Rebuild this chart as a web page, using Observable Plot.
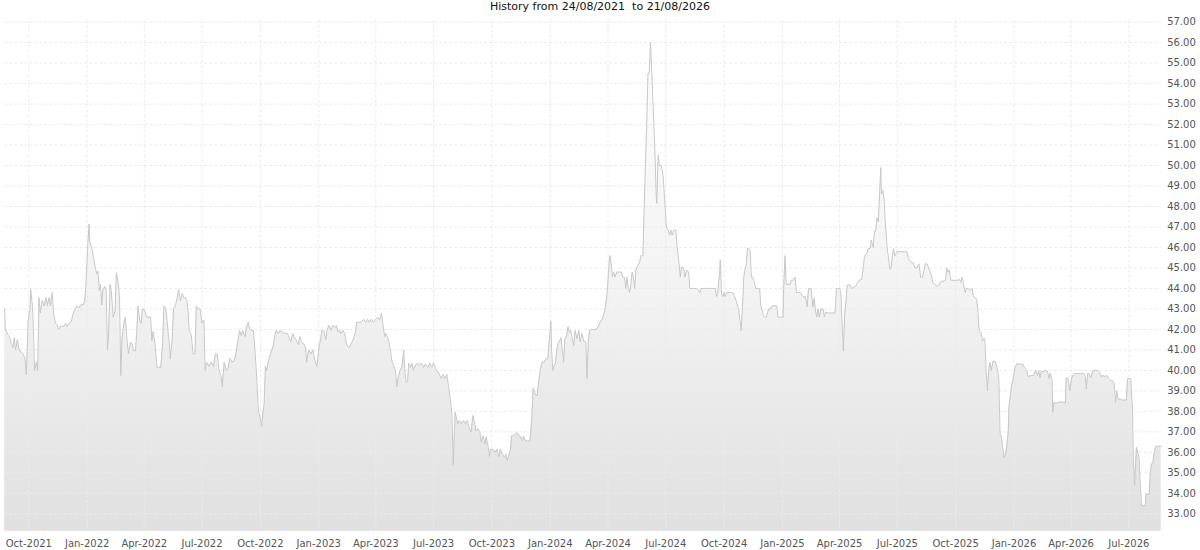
<!DOCTYPE html>
<html><head><meta charset="utf-8">
<script src="https://cdn.jsdelivr.net/npm/d3@7"></script>
<script src="https://cdn.jsdelivr.net/npm/@observablehq/plot@0.6"></script>
<style>
body{margin:0;background:#fff;font-family:"DejaVu Sans",sans-serif;}
#title{height:14px;line-height:14px;font-size:11px;text-align:center;white-space:pre;color:#111;}
</style></head><body>
<div id="title"></div>
<div id="chart"></div>
<script>
const titleText = "History from 24/08/2021  to 21/08/2026";

const series2021 = [["2021-08-24",43.0],["2021-08-25",42.0],["2021-08-29",41.75],["2021-09-01",41.6],["2021-09-03",41.35],["2021-09-06",41.1],["2021-09-08",41.6],["2021-09-10",41.0],["2021-09-13",41.5],["2021-09-15",41.1],["2021-09-19",40.85],["2021-09-22",40.8],["2021-09-25",40.55],["2021-09-27",39.8],["2021-09-30",42.4],["2021-10-03",43.05],["2021-10-04",43.95],["2021-10-07",43.05],["2021-10-09",41.3],["2021-10-10",40.0],["2021-10-13",40.4],["2021-10-15",40.0],["2021-10-17",43.55],["2021-10-19",42.8],["2021-10-22",43.4],["2021-10-25",43.15],["2021-10-28",43.55],["2021-10-30",43.15],["2021-11-02",43.55],["2021-11-04",43.15],["2021-11-07",43.8],["2021-11-09",42.8],["2021-11-12",42.3],["2021-11-14",42.25],["2021-11-17",42.0],["2021-11-20",42.15],["2021-11-25",42.15],["2021-11-28",42.3],["2021-11-30",42.15],["2021-12-03",42.3],["2021-12-07",42.4],["2021-12-10",42.75],["2021-12-13",43.0],["2021-12-16",43.15],["2021-12-19",43.05],["2021-12-22",43.2],["2021-12-26",43.2],["2021-12-28",43.4],["2021-12-30",44.2]];

const series2022 = [["2022-01-02",46.15],["2022-01-04",47.15],["2022-01-05",46.3],["2022-01-08",46.0],["2022-01-11",45.5],["2022-01-14",45.0],["2022-01-16",44.7],["2022-01-18",44.85],["2022-01-20",43.9],["2022-01-22",44.2],["2022-01-24",43.2],["2022-01-26",43.95],["2022-01-29",44.1],["2022-01-31",43.9],["2022-02-02",41.0],["2022-02-04",41.9],["2022-02-06",44.2],["2022-02-08",43.9],["2022-02-11",42.6],["2022-02-14",42.9],["2022-02-16",44.75],["2022-02-19",44.3],["2022-02-21",43.55],["2022-02-23",39.75],["2022-02-25",41.6],["2022-02-28",42.3],["2022-03-02",42.6],["2022-03-05",41.45],["2022-03-07",40.8],["2022-03-10",41.35],["2022-03-13",41.3],["2022-03-15",40.95],["2022-03-18",40.95],["2022-03-20",41.75],["2022-03-22",43.15],["2022-03-25",42.4],["2022-03-27",42.3],["2022-03-29",43.0],["2022-04-01",42.95],["2022-04-05",42.6],["2022-04-11",42.6],["2022-04-13",41.45],["2022-04-15",41.9],["2022-04-18",41.3],["2022-04-21",40.15],["2022-04-27",40.15],["2022-04-30",41.3],["2022-05-02",43.15],["2022-05-05",43.0],["2022-05-07",42.4],["2022-05-10",41.45],["2022-05-12",40.55],["2022-05-15",41.45],["2022-05-17",43.0],["2022-05-20",43.15],["2022-05-23",43.55],["2022-05-25",43.95],["2022-05-28",43.4],["2022-05-31",43.75],["2022-06-02",43.55],["2022-06-05",43.55],["2022-06-07",43.4],["2022-06-09",42.9],["2022-06-11",41.9],["2022-06-14",41.75],["2022-06-17",40.8],["2022-06-20",40.8],["2022-06-22",43.15],["2022-06-25",43.0],["2022-06-28",43.0],["2022-07-01",42.3],["2022-07-04",42.45],["2022-07-06",40.0],["2022-07-08",40.4],["2022-07-12",40.2],["2022-07-15",40.4],["2022-07-19",40.2],["2022-07-22",40.8],["2022-07-25",40.8],["2022-07-28",40.0],["2022-07-31",39.75],["2022-08-02",39.2],["2022-08-05",40.4],["2022-08-08",40.0],["2022-08-11",40.1],["2022-08-14",40.6],["2022-08-18",40.4],["2022-08-21",40.5],["2022-08-24",40.9],["2022-08-26",41.3],["2022-08-29",41.95],["2022-09-01",41.7],["2022-09-03",41.95],["2022-09-07",41.65],["2022-09-09",42.1],["2022-09-12",42.35],["2022-09-14",42.05],["2022-09-17",41.95],["2022-09-20",41.95],["2022-09-23",40.8],["2022-09-26",39.2],["2022-09-28",38.0],["2022-10-01",37.65],["2022-10-03",37.25],["2022-10-05",37.9],["2022-10-07",38.4],["2022-10-09",40.2],["2022-10-11",40.0],["2022-10-14",40.5],["2022-10-18",40.9],["2022-10-21",41.15],["2022-10-24",41.7],["2022-10-26",41.95],["2022-10-29",41.8],["2022-11-01",41.95],["2022-11-05",41.85],["2022-11-10",41.8],["2022-11-13",41.8],["2022-11-16",41.55],["2022-11-18",41.4],["2022-11-21",41.8],["2022-11-23",41.65],["2022-11-26",41.5],["2022-11-30",41.25],["2022-12-02",41.65],["2022-12-05",41.4],["2022-12-08",41.3],["2022-12-11",41.15],["2022-12-13",40.4],["2022-12-16",41.0],["2022-12-20",40.8],["2022-12-23",41.0],["2022-12-26",40.5],["2022-12-29",40.2]];

const series2023 = [["2023-01-02",41.25],["2023-01-04",41.5],["2023-01-06",41.95],["2023-01-09",41.95],["2023-01-12",41.5],["2023-01-14",41.95],["2023-01-17",42.2],["2023-01-21",41.95],["2023-01-23",42.2],["2023-01-26",42.1],["2023-01-29",42.2],["2023-01-31",41.9],["2023-02-03",41.95],["2023-02-05",41.8],["2023-02-08",41.95],["2023-02-11",41.8],["2023-02-14",41.25],["2023-02-18",41.1],["2023-02-20",41.25],["2023-02-23",41.4],["2023-02-26",41.65],["2023-02-28",41.9],["2023-03-02",42.35],["2023-03-05",42.35],["2023-03-09",42.35],["2023-03-13",42.5],["2023-03-16",42.35],["2023-03-19",42.5],["2023-03-22",42.35],["2023-03-25",42.5],["2023-03-28",42.35],["2023-04-01",42.5],["2023-04-04",42.6],["2023-04-07",42.45],["2023-04-10",42.8],["2023-04-12",42.3],["2023-04-15",41.65],["2023-04-17",41.8],["2023-04-21",41.5],["2023-04-24",41.0],["2023-04-26",40.5],["2023-04-29",40.25],["2023-05-02",40.0],["2023-05-04",39.2],["2023-05-06",39.6],["2023-05-09",40.0],["2023-05-12",40.15],["2023-05-15",41.0],["2023-05-17",39.8],["2023-05-19",39.4],["2023-05-21",39.5],["2023-05-23",40.35],["2023-05-26",40.15],["2023-05-28",40.35],["2023-05-30",40.0],["2023-06-02",40.25],["2023-06-06",40.35],["2023-06-09",40.25],["2023-06-12",40.35],["2023-06-15",40.15],["2023-06-18",40.3],["2023-06-22",40.15],["2023-06-25",40.35],["2023-06-28",40.15],["2023-07-01",40.35],["2023-07-04",40.15],["2023-07-06",39.95],["2023-07-09",39.9],["2023-07-13",39.6],["2023-07-16",39.8],["2023-07-19",39.6],["2023-07-22",39.8],["2023-07-25",39.15],["2023-07-27",38.7],["2023-07-30",37.85],["2023-08-01",35.4],["2023-08-04",37.95],["2023-08-06",37.7],["2023-08-08",37.4],["2023-08-11",37.55],["2023-08-14",37.4],["2023-08-17",37.55],["2023-08-20",37.4],["2023-08-23",37.55],["2023-08-26",37.2],["2023-08-29",37.0],["2023-09-01",37.8],["2023-09-03",37.55],["2023-09-06",37.05],["2023-09-09",37.15],["2023-09-12",37.0],["2023-09-14",36.5],["2023-09-17",36.8],["2023-09-20",36.4],["2023-09-22",36.75],["2023-09-25",36.3],["2023-09-27",35.8],["2023-09-29",36.15],["2023-10-03",36.15],["2023-10-06",36.0],["2023-10-09",36.15],["2023-10-12",35.8],["2023-10-14",36.15],["2023-10-18",35.9],["2023-10-21",35.75],["2023-10-23",35.9],["2023-10-25",35.6],["2023-10-27",35.8],["2023-10-30",36.1],["2023-11-01",36.8],["2023-11-04",36.8],["2023-11-07",36.9],["2023-11-10",36.95],["2023-11-13",36.8],["2023-11-16",36.75],["2023-11-18",36.55],["2023-11-20",36.8],["2023-11-23",36.55],["2023-11-27",36.55],["2023-11-30",36.55],["2023-12-03",37.7],["2023-12-05",39.15],["2023-12-08",38.85],["2023-12-11",38.75],["2023-12-13",39.25],["2023-12-16",40.0],["2023-12-19",40.4],["2023-12-22",40.4],["2023-12-25",40.55],["2023-12-28",40.55],["2023-12-30",41.3]];

const series2024 = [["2024-01-02",42.4],["2024-01-03",41.05],["2024-01-05",40.0],["2024-01-07",40.25],["2024-01-09",40.3],["2024-01-11",40.95],["2024-01-13",41.3],["2024-01-16",41.45],["2024-01-18",41.6],["2024-01-20",40.95],["2024-01-22",40.4],["2024-01-24",41.55],["2024-01-26",41.6],["2024-01-29",42.15],["2024-01-31",41.85],["2024-02-02",41.95],["2024-02-05",41.55],["2024-02-07",41.2],["2024-02-09",41.95],["2024-02-12",41.55],["2024-02-15",41.95],["2024-02-17",41.4],["2024-02-20",41.8],["2024-02-23",41.4],["2024-02-26",41.4],["2024-02-28",39.6],["2024-03-01",41.45],["2024-03-03",41.95],["2024-03-06",42.0],["2024-03-09",42.0],["2024-03-12",42.0],["2024-03-15",42.05],["2024-03-20",42.4],["2024-03-22",42.45],["2024-03-25",42.7],["2024-03-28",43.1],["2024-03-31",43.9],["2024-04-02",44.9],["2024-04-04",45.6],["2024-04-06",45.2],["2024-04-08",44.55],["2024-04-10",44.8],["2024-04-12",44.55],["2024-04-15",44.8],["2024-04-19",44.8],["2024-04-22",44.8],["2024-04-24",44.55],["2024-04-27",44.55],["2024-04-29",44.0],["2024-05-01",44.55],["2024-05-03",44.0],["2024-05-05",43.8],["2024-05-07",44.2],["2024-05-09",44.8],["2024-05-11",44.55],["2024-05-13",44.0],["2024-05-15",44.9],["2024-05-17",45.05],["2024-05-21",45.3],["2024-05-23",45.6],["2024-05-26",45.6],["2024-05-28",47.95],["2024-05-30",50.1],["2024-06-01",51.9],["2024-06-03",54.5],["2024-06-05",54.5],["2024-06-07",56.0],["2024-06-09",54.5],["2024-06-11",53.0],["2024-06-14",50.6],["2024-06-16",48.45],["2024-06-17",48.15],["2024-06-19",50.5],["2024-06-21",50.0],["2024-06-24",50.0],["2024-06-27",49.45],["2024-06-29",48.45],["2024-07-02",47.0],["2024-07-05",46.85],["2024-07-07",46.6],["2024-07-09",46.85],["2024-07-11",46.6],["2024-07-14",46.85],["2024-07-17",46.85],["2024-07-19",46.0],["2024-07-22",45.2],["2024-07-24",44.55],["2024-07-26",45.05],["2024-07-29",45.0],["2024-07-31",44.55],["2024-08-03",44.9],["2024-08-06",44.8],["2024-08-08",44.0],["2024-08-14",44.0],["2024-08-19",44.0],["2024-08-22",43.9],["2024-08-24",43.8],["2024-08-26",44.0],["2024-09-02",44.0],["2024-09-07",44.0],["2024-09-12",44.0],["2024-09-17",44.0],["2024-09-19",43.6],["2024-09-21",43.8],["2024-09-24",44.8],["2024-09-25",45.4],["2024-09-27",43.75],["2024-09-29",43.6],["2024-10-01",43.8],["2024-10-03",43.6],["2024-10-05",43.8],["2024-10-11",43.8],["2024-10-15",43.8],["2024-10-17",43.65],["2024-10-20",43.4],["2024-10-24",42.95],["2024-10-26",42.45],["2024-10-28",41.95],["2024-10-30",43.1],["2024-11-01",44.55],["2024-11-03",44.9],["2024-11-05",45.2],["2024-11-07",45.95],["2024-11-09",45.95],["2024-11-11",45.85],["2024-11-13",44.55],["2024-11-15",44.55],["2024-11-17",44.4],["2024-11-20",44.0],["2024-11-23",44.0],["2024-11-26",44.0],["2024-11-28",43.1],["2024-11-30",42.95],["2024-12-02",42.7],["2024-12-04",42.6],["2024-12-07",42.6],["2024-12-10",43.0],["2024-12-13",43.0],["2024-12-16",43.15],["2024-12-20",43.15],["2024-12-23",43.15],["2024-12-25",42.6],["2024-12-28",42.6]];

const series2025 = [["2025-01-02",42.6],["2025-01-03",44.1],["2025-01-05",45.6],["2025-01-07",44.2],["2025-01-10",44.2],["2025-01-13",44.2],["2025-01-15",44.4],["2025-01-18",44.4],["2025-01-21",44.55],["2025-01-23",43.8],["2025-01-26",43.8],["2025-01-29",43.8],["2025-02-01",43.65],["2025-02-03",43.6],["2025-02-06",43.6],["2025-02-09",43.1],["2025-02-11",44.0],["2025-02-15",44.0],["2025-02-18",43.1],["2025-02-20",43.55],["2025-02-22",42.9],["2025-02-24",42.6],["2025-02-26",43.0],["2025-02-28",42.6],["2025-03-03",43.0],["2025-03-06",43.0],["2025-03-08",42.6],["2025-03-10",42.85],["2025-03-14",42.8],["2025-03-19",42.8],["2025-03-25",42.8],["2025-03-27",44.0],["2025-04-01",44.0],["2025-04-03",43.8],["2025-04-05",42.25],["2025-04-07",40.95],["2025-04-09",42.75],["2025-04-11",43.3],["2025-04-13",44.15],["2025-04-17",44.2],["2025-04-20",44.0],["2025-04-23",44.05],["2025-04-26",44.1],["2025-04-29",44.25],["2025-05-02",44.4],["2025-05-06",44.45],["2025-05-08",44.95],["2025-05-10",45.45],["2025-05-12",45.65],["2025-05-14",45.7],["2025-05-16",45.95],["2025-05-19",45.95],["2025-05-21",46.35],["2025-05-24",46.0],["2025-05-26",46.8],["2025-05-28",46.8],["2025-05-30",47.45],["2025-06-01",47.25],["2025-06-03",48.6],["2025-06-05",49.9],["2025-06-06",48.6],["2025-06-08",48.8],["2025-06-10",48.4],["2025-06-12",47.25],["2025-06-15",46.0],["2025-06-17",45.5],["2025-06-19",44.95],["2025-06-21",44.95],["2025-06-23",45.5],["2025-06-25",45.95],["2025-06-27",45.6],["2025-07-01",45.8],["2025-07-04",45.8],["2025-07-08",45.8],["2025-07-12",45.8],["2025-07-16",45.8],["2025-07-19",45.45],["2025-07-22",45.3],["2025-07-26",45.25],["2025-07-29",45.0],["2025-08-01",45.0],["2025-08-04",45.2],["2025-08-07",44.55],["2025-08-10",44.55],["2025-08-14",45.2],["2025-08-17",45.2],["2025-08-20",44.95],["2025-08-23",44.7],["2025-08-26",44.3],["2025-08-29",44.2],["2025-09-02",44.1],["2025-09-05",44.2],["2025-09-08",44.35],["2025-09-12",44.35],["2025-09-15",44.4],["2025-09-17",45.0],["2025-09-19",44.8],["2025-09-21",44.9],["2025-09-23",44.4],["2025-09-27",44.4],["2025-10-02",44.4],["2025-10-05",44.4],["2025-10-07",44.45],["2025-10-09",44.3],["2025-10-11",44.55],["2025-10-13",44.3],["2025-10-16",43.8],["2025-10-18",44.0],["2025-10-21",44.0],["2025-10-24",43.9],["2025-10-27",44.0],["2025-10-29",43.65],["2025-10-31",43.55],["2025-11-03",43.5],["2025-11-05",42.95],["2025-11-07",41.95],["2025-11-10",41.85],["2025-11-12",41.45],["2025-11-14",41.55],["2025-11-16",41.55],["2025-11-18",40.0],["2025-11-20",39.0],["2025-11-22",40.0],["2025-11-24",40.4],["2025-11-26",40.0],["2025-11-29",40.45],["2025-12-02",40.45],["2025-12-04",40.3],["2025-12-06",40.0],["2025-12-08",39.65],["2025-12-10",36.9],["2025-12-12",36.75],["2025-12-14",36.35],["2025-12-16",35.75],["2025-12-19",35.95],["2025-12-21",36.4],["2025-12-23",37.05],["2025-12-24",38.2],["2025-12-26",38.7],["2025-12-28",39.2],["2025-12-30",39.5]];

const series2026 = [["2026-01-02",40.0],["2026-01-03",40.15],["2026-01-06",40.35],["2026-01-09",40.3],["2026-01-12",40.3],["2026-01-15",40.3],["2026-01-17",40.15],["2026-01-19",40.1],["2026-01-21",40.0],["2026-01-23",39.7],["2026-01-28",39.75],["2026-02-01",39.75],["2026-02-04",40.0],["2026-02-07",39.75],["2026-02-09",40.0],["2026-02-11",39.65],["2026-02-13",39.95],["2026-02-16",39.95],["2026-02-20",40.0],["2026-02-23",39.95],["2026-02-25",39.6],["2026-02-27",39.85],["2026-03-02",39.55],["2026-03-03",37.95],["2026-03-05",38.45],["2026-03-09",38.4],["2026-03-12",38.45],["2026-03-16",38.45],["2026-03-20",38.45],["2026-03-23",38.4],["2026-03-24",39.6],["2026-03-26",39.65],["2026-03-28",39.5],["2026-03-30",39.0],["2026-04-02",39.65],["2026-04-05",39.8],["2026-04-08",39.85],["2026-04-11",39.85],["2026-04-14",39.85],["2026-04-17",39.85],["2026-04-21",39.85],["2026-04-23",39.75],["2026-04-25",39.1],["2026-04-27",39.85],["2026-04-29",39.85],["2026-05-02",39.65],["2026-05-04",39.85],["2026-05-06",40.0],["2026-05-09",40.0],["2026-05-13",40.0],["2026-05-16",39.9],["2026-05-18",39.7],["2026-05-21",39.75],["2026-05-24",39.7],["2026-05-27",39.75],["2026-05-31",39.6],["2026-06-03",39.5],["2026-06-05",39.5],["2026-06-08",39.35],["2026-06-10",38.45],["2026-06-12",39.0],["2026-06-14",38.6],["2026-06-17",38.6],["2026-06-20",38.55],["2026-06-24",38.55],["2026-06-27",38.55],["2026-06-29",39.6],["2026-07-01",39.6],["2026-07-04",39.6],["2026-07-05",39.0],["2026-07-07",37.9],["2026-07-08",35.75],["2026-07-10",34.4],["2026-07-13",36.25],["2026-07-15",36.0],["2026-07-17",35.75],["2026-07-19",34.45],["2026-07-21",33.4],["2026-07-23",33.4],["2026-07-25",33.4],["2026-07-27",33.4],["2026-07-28",33.95],["2026-08-02",33.95],["2026-08-04",35.1],["2026-08-06",35.45],["2026-08-08",35.5],["2026-08-10",36.0],["2026-08-12",36.25],["2026-08-15",36.3],["2026-08-21",36.3]];

const xTicks = ["2021-10-01","2022-01-01","2022-04-01","2022-07-01","2022-10-01","2023-01-01","2023-04-01","2023-07-01","2023-10-01","2024-01-01","2024-04-01","2024-07-01","2024-10-01","2025-01-01","2025-04-01","2025-07-01","2025-10-01","2026-01-01","2026-04-01","2026-07-01"];
const yTicks = [33,34,35,36,37,38,39,40,41,42,43,44,45,46,47,48,49,50,51,52,53,54,55,56,57];
const xDomain = ["2021-08-24","2026-08-21"];
const yDomain = [32.15, 57.1];

document.getElementById("title").textContent = titleText;

const data = [...series2021, ...series2022, ...series2023, ...series2024, ...series2025, ...series2026]
  .map(([d, v]) => ({date: new Date(d), value: v}));
const tickDates = xTicks.map(d => new Date(d));

const gradientDefs = () => {
  const defs = d3.create("svg:defs");
  const g = defs.append("linearGradient").attr("id", "fillGrad")
    .attr("x1", 0).attr("y1", 0).attr("x2", 0).attr("y2", 1);
  g.append("stop").attr("offset", "0%").attr("stop-color", "#fefefe");
  g.append("stop").attr("offset", "50%").attr("stop-color", "#f3f3f3");
  g.append("stop").attr("offset", "100%").attr("stop-color", "#e0e0e0");
  return defs.node();
};

const chart = Plot.plot({
  width: 1200,
  height: 536,
  marginTop: 5.6,
  marginBottom: 19.3,
  marginLeft: 4.2,
  marginRight: 39.3,
  style: {fontFamily: "DejaVu Sans, sans-serif", fontSize: "10px", background: "#fff", color: "#555"},
  x: {type: "utc", domain: xDomain.map(d => new Date(d)), label: null},
  y: {domain: yDomain, label: null},
  marks: [
    gradientDefs,
    Plot.areaY(data, {x: "date", y1: yDomain[0], y2: "value", fill: "url(#fillGrad)"}),
    Plot.gridY(yTicks, {stroke: "#ebebeb", strokeOpacity: 1, strokeDasharray: "3,2"}),
    Plot.gridX(tickDates, {stroke: "#ebebeb", strokeOpacity: 1, strokeDasharray: "3,2"}),
    Plot.lineY(data, {x: "date", y: "value", stroke: "#c8c8c8", strokeWidth: 1}),
    Plot.axisX(tickDates, {tickSize: 0, tickPadding: 8.5, tickFormat: d3.utcFormat("%b-%Y"), fill: "#555", label: null}),
    Plot.axisY(yTicks, {anchor: "right", tickSize: 0, tickPadding: 6, tickFormat: d => d.toFixed(2), fill: "#555", label: null})
  ]
});
document.getElementById("chart").appendChild(chart);
</script>
</body></html>
